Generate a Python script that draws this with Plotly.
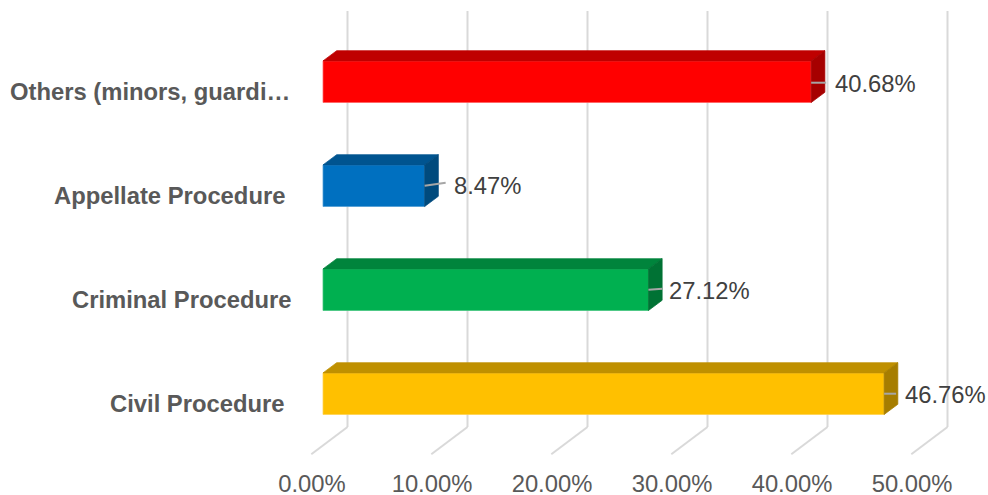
import plotly.graph_objects as go

categories = ["Civil Procedure", "Criminal Procedure", "Appellate Procedure", "Others (minors, guardi…"]
values = [46.76, 27.12, 8.47, 40.68]
value_labels = ["46.76%", "27.12%", "8.47%", "40.68%"]
tick_values = [0, 10, 20, 30, 40, 50]
tick_labels = ["0.00%", "10.00%", "20.00%", "30.00%", "40.00%", "50.00%"]
front_colors = ["#FFC000", "#00B050", "#0070C0", "#FF0000"]
top_colors = ["#BF9000", "#00843C", "#005490", "#BF0000"]
side_colors = ["#A67D00", "#007234", "#004A7D", "#A60000"]
edge_colors = ["#FFD24D", "#40C47C", "#4D9BD3", "#FF6060"]

# pixel-to-data scale of the chart
PX_X = 12.0
PX_Y = 104.0
X0 = 323.0
Y0 = 393.7
L = 0
W = 988
AXIS_Y = 465      # pixel row of the plot's bottom edge
H = 520           # canvas is taller than the window so tick labels never push the margin
B = H - AXIS_Y

dx = lambda px: px / PX_X
dy = lambda px: px / PX_Y
BAR_H = 0.4
DEPTH_X = dx(13.7)
DEPTH_Y = dy(10.2)

fig = go.Figure()
pos = list(range(len(categories)))

fig.add_trace(go.Bar(
    y=pos, x=values, orientation="h", width=BAR_H,
    marker=dict(color=front_colors, line=dict(color=edge_colors, width=0.75)),
    hoverinfo="skip", showlegend=False,
))

for i, v in enumerate(values):
    top = i + BAR_H / 2
    bot = i - BAR_H / 2
    fig.add_trace(go.Scatter(
        x=[0, DEPTH_X, v + DEPTH_X, v, 0],
        y=[top, top + DEPTH_Y, top + DEPTH_Y, top, top],
        mode="lines", fill="toself", fillcolor=top_colors[i],
        line=dict(color=top_colors[i], width=0.75),
        hoverinfo="skip", showlegend=False,
    ))
    fig.add_trace(go.Scatter(
        x=[v, v + DEPTH_X, v + DEPTH_X, v, v],
        y=[top, top + DEPTH_Y, bot + DEPTH_Y, bot, top],
        mode="lines", fill="toself", fillcolor=side_colors[i],
        line=dict(color=side_colors[i], width=0.75),
        hoverinfo="skip", showlegend=False,
    ))

# leader lines from the bars to the value labels
leader_len = [dx(12), dx(14), dx(21), dx(15)]
leader_rise = [dy(0), dy(1), dy(3), dy(-1)]
leader_drop = [dy(0), dy(0), dy(0), dy(-1)]
for i, v in enumerate(values):
    fig.add_trace(go.Scatter(
        x=[v, v + leader_len[i]],
        y=[i + leader_drop[i], i + leader_rise[i]],
        mode="lines", line=dict(color="#A6A6A6", width=2),
        hoverinfo="skip", showlegend=False,
    ))

# back wall gridlines and floor diagonals, behind the bars
for t in tick_values:
    for (xa, ya, xb, yb) in [
        (t + dx(24.5), dy(393.7 - 11), t + dx(24.5), dy(393.7 - 427)),
        (t + dx(24.5), dy(393.7 - 427), t + dx(-11.7), dy(393.7 - 454.3)),
    ]:
        fig.add_shape(type="line", xref="x", yref="y", x0=xa, y0=ya, x1=xb, y1=yb,
                      layer="below", line=dict(color="#D9D9D9", width=2))

# value labels
label_shift = [19, 19, 27, 22]
label_y_shift = [-1, -1, 0, -2]
for i, v in enumerate(values):
    fig.add_annotation(x=v, y=i, text=value_labels[i], showarrow=False,
                       xanchor="left", yanchor="middle", xshift=label_shift[i],
                       yshift=label_y_shift[i],
                       font=dict(family="Liberation Sans", size=23.8, color="#404040"))

# category labels
cat_right = [287, 294, 287, 292]
for i, c in enumerate(categories):
    fig.add_annotation(x=(cat_right[i] - X0) / PX_X, y=i, text="<b>%s</b>" % c, showarrow=False,
                       xanchor="right", yanchor="middle", yshift=-10, xshift=0,
                       font=dict(family="Liberation Sans", size=23.8, color="#595959"))

fig.update_layout(
    width=W, height=H, margin=dict(l=L, r=0, t=0, b=B),
    paper_bgcolor="white", plot_bgcolor="white", showlegend=False,
    xaxis=dict(range=[(L - X0) / PX_X, (W - X0) / PX_X], showgrid=False, zeroline=False,
               showline=False, tickmode="array", tickvals=tick_values, ticktext=tick_labels,
               ticks="", ticklabelshift=-11, ticklabelstandoff=2,
               tickfont=dict(family="Liberation Sans", size=23.8, color="#595959")),
    yaxis=dict(range=[(Y0 - AXIS_Y) / PX_Y, Y0 / PX_Y], showgrid=False, zeroline=False,
               showline=False, showticklabels=False, ticks=""),
)
fig.write_html("out.html", config=dict(displayModeBar=False),
               post_script="document.body.style.margin='0';document.documentElement.style.overflow='hidden';document.body.style.overflow='hidden';")
